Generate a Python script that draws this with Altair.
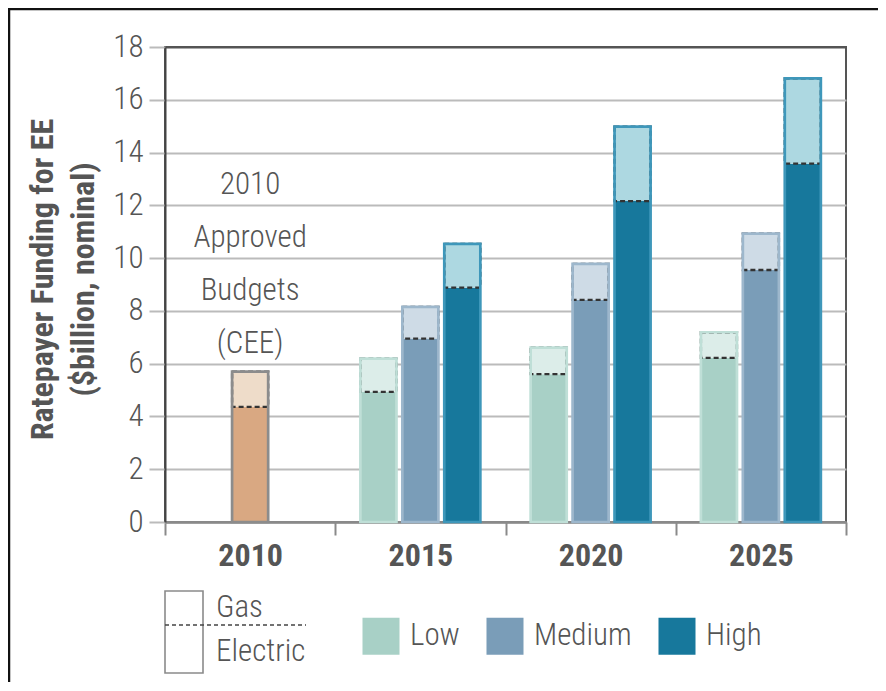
import altair as alt
import pandas as pd

# ---------------- data ----------------
years_all = ["2010", "2015", "2020", "2025"]
scenarios = ["Low", "Medium", "High"]

cee_year = ["2010"]
cee_electric = [4.36]
cee_total = [5.70]

scen_years = ["2015", "2020", "2025"]
low_electric = [4.93, 5.60, 6.22]
low_total = [6.19, 6.61, 7.19]
med_electric = [6.95, 8.42, 9.55]
med_total = [8.15, 9.78, 10.93]
high_electric = [8.88, 12.16, 13.58]
high_total = [10.54, 14.98, 16.81]

y_ticks = [0, 2, 4, 6, 8, 10, 12, 14, 16, 18]
annotation = ["2010", "Approved", "Budgets", "(CEE)"]
y_title = ["Ratepayer Funding for EE", "($billion, nominal)"]

# colours
elec_colors = ["#A8D0C6", "#7A9DB8", "#17789C"]
gas_colors = ["#DCEDE9", "#CEDBE6", "#ADD8E1"]
outline_colors = ["#BFDFD7", "#9DB7CC", "#3E97BA"]
cee_elec_color = "#D9A882"
cee_gas_color = "#EEDCC9"
TXT = "#555555"
F = "Roboto Condensed, Roboto, sans-serif"
LW = 300  # light weight for regular texts

# ---------------- tables ----------------
cee_df = pd.DataFrame({"year": cee_year, "electric": cee_electric, "total": cee_total})
rows = []
for sc, el, tot in [("Low", low_electric, low_total),
                    ("Medium", med_electric, med_total),
                    ("High", high_electric, high_total)]:
    for y, e, t in zip(scen_years, el, tot):
        rows.append({"year": y, "scenario": sc, "electric": e, "total": t})
scen_df = pd.DataFrame(rows)
one = pd.DataFrame({"k": [0]})

# ---------------- encodings ----------------
x_enc = alt.X("year:N", scale=alt.Scale(domain=years_all, paddingInner=0, paddingOuter=0),
              axis=alt.Axis(title=None, labelAngle=0, labelFont=F, labelFontSize=32,
                            labelFontWeight="bold", labelColor=TXT, labelPadding=5,
                            domainColor="#8a8a8a", domainWidth=2.5, tickColor="#8a8a8a",
                            tickWidth=2, tickSize=13, tickBand="extent", grid=False))
xoff = alt.XOffset("scenario:N", scale=alt.Scale(domain=scenarios, paddingInner=0.14, paddingOuter=0.6))
yscale = alt.Scale(domain=[0, 18], nice=False)
yaxis = alt.Axis(values=y_ticks, title=y_title, labelFont=F, labelFontSize=31,
                 labelFontWeight=LW, labelColor=TXT,
                 labelPadding=6, tickSize=16, tickColor="#bbbbbb", tickWidth=2,
                 grid=True,
                 gridColor={"condition": {"test": "datum.value === 18", "value": "#555555"},
                            "value": "#bbbbbb"},
                 gridWidth=2, domainColor="#444444", domainWidth=2,
                 titleFont=F, titleFontSize=32, titleFontWeight="bold", titleColor=TXT,
                 titleX=-123, titleY=232, titleAngle=270, titleAlign="center",
                 titleBaseline="middle", titleLineHeight=41)


def Y(field):
    return alt.Y(field, type="quantitative", scale=yscale, axis=yaxis, stack=None)


bw = {"band": 0.212}
DASH = [5, 3]

# 2010 bar
cee_elec = alt.Chart(cee_df).mark_bar(width=bw, color=cee_elec_color).encode(
    x=x_enc, y=Y("electric"))
cee_gas = alt.Chart(cee_df).mark_bar(width=bw, color=cee_gas_color, stroke="#333333",
                                     strokeDash=DASH, strokeWidth=2.3).encode(
    x=x_enc, y=Y("electric"), y2="total")
cee_out = alt.Chart(cee_df).mark_bar(width=bw, fillOpacity=0, stroke="#8c8c8c",
                                     strokeWidth=2.7).encode(
    x=x_enc, y=Y("total"))

# scenario bars
legend = alt.Legend(title=None, orient="none", legendX=197, legendY=570, direction="horizontal",
                    symbolType="square", symbolSize=1370, symbolStrokeWidth=0,
                    labelFont=F, labelFontSize=31, labelFontWeight=LW, labelColor=TXT,
                    labelOffset=10, columnPadding=26, padding=0)
sc_elec = alt.Chart(scen_df).mark_bar().encode(
    x=x_enc, xOffset=xoff, y=Y("electric"),
    fill=alt.Fill("scenario:N", scale=alt.Scale(domain=scenarios, range=elec_colors), legend=legend))
sc_gas = alt.Chart(scen_df).mark_bar(stroke="#333333", strokeDash=DASH, strokeWidth=2.3).encode(
    x=x_enc, xOffset=xoff, y=Y("electric"), y2="total",
    color=alt.Color("scenario:N", scale=alt.Scale(domain=scenarios, range=gas_colors), legend=None))
sc_out = alt.Chart(scen_df).mark_bar(fillOpacity=0, strokeWidth=2.7).encode(
    x=x_enc, xOffset=xoff, y=Y("total"),
    stroke=alt.Stroke("scenario:N", scale=alt.Scale(domain=scenarios, range=outline_colors), legend=None))

# annotation
note = alt.Chart(one).mark_text(font=F, fontSize=31, fontWeight=LW, color=TXT, lineHeight=53,
                                align="center", baseline="middle").encode(
    x=alt.datum("2010"), y=alt.datum(12.77), text=alt.value(annotation))

# Gas / Electric key
TXT_KW = dict(font=F, fontSize=31, fontWeight=LW, color=TXT, align="left", baseline="middle")
key_box = alt.Chart(one).mark_rect(fill="white", stroke="#8a8a8a", strokeWidth=1.6).encode(
    x=alt.value(0), x2=alt.value(38), y=alt.value(544), y2=alt.value(626))
key_rule = alt.Chart(one).mark_rule(stroke="#444444", strokeDash=[4, 3], strokeWidth=1.6).encode(
    x=alt.value(0), x2=alt.value(141), y=alt.value(578))
key_gas = alt.Chart(one).mark_text(**TXT_KW).encode(
    x=alt.value(51), y=alt.value(561), text=alt.value("Gas"))
key_el = alt.Chart(one).mark_text(**TXT_KW).encode(
    x=alt.value(51), y=alt.value(605), text=alt.value("Electric"))

# outer frame
frame = alt.Chart(one).mark_rect(fillOpacity=0, stroke="#111111", strokeWidth=2.5).encode(
    x=alt.value(-156), x2=alt.value(760), y=alt.value(-38), y2=alt.value(720))

chart = alt.layer(
    cee_elec, cee_gas, cee_out, sc_elec, sc_gas, sc_out, note,
    key_box, key_rule, key_gas, key_el, frame
).properties(
    width=681, height=475,
    autosize=alt.AutoSizeParams(type="none"),
    padding={"left": 157, "top": 39, "right": 32, "bottom": 160},
    background="white",
).configure_view(
    stroke="#555555", strokeWidth=2
)

chart.save("out.html", embed_options={"renderer": "svg", "actions": False})
